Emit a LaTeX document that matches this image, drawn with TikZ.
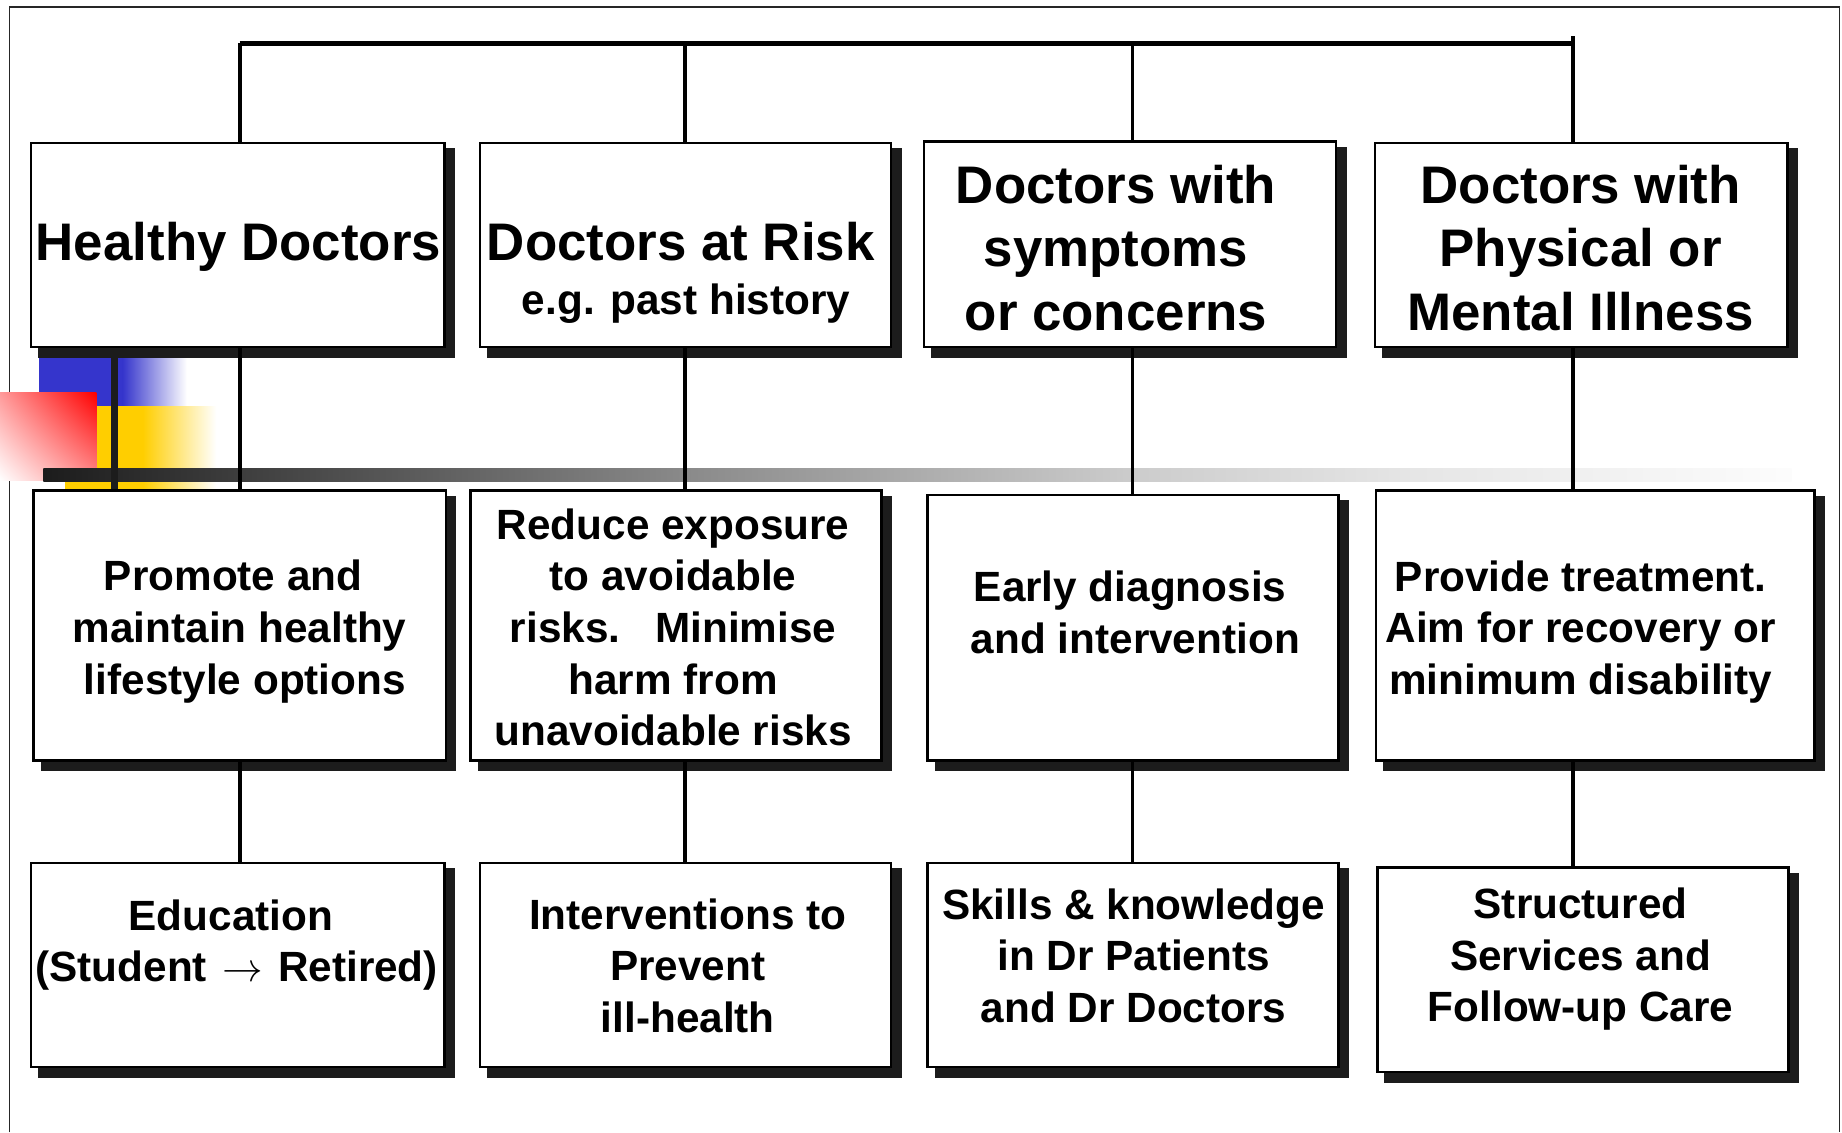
\documentclass[tikz,border=0pt]{standalone}
\usepackage{fontspec}
\setmainfont{Liberation Sans}
\usetikzlibrary{calc,shadings}

\definecolor{shadowc}{RGB}{28,28,28}
\definecolor{blueC}{RGB}{53,53,204}
\definecolor{yellowC}{RGB}{255,206,0}

\tikzset{
  panelbox/.style={draw=black, line width=1pt, fill=white, inner sep=0pt, outer sep=0pt},
  link/.style={line width=1.6pt, black},
  topbar/.style={line width=2.2pt, black},
  bigtxt/.style={font=\bfseries\fontsize{22.5}{27}\selectfont, align=center, inner sep=0pt},
  smalltxt/.style={font=\bfseries\fontsize{18}{22}\selectfont, align=center, inner sep=0pt},
}

% box with a solid drop shadow: name, x1, y1, x2, y2
\newcommand\makepanel[5]{%
  \fill[shadowc] ({#2+6.5},{#3+5}) rectangle ({#4+8.5},{#5+8.5});
  \node[panelbox, minimum width={(#4-#2-1)*0.5pt}, minimum height={(#5-#3-1)*0.5pt}]
    (#1) at ({(#2+#4)/2},{(#3+#5)/2}) {};}

\begin{document}
\begin{tikzpicture}[x=0.5pt,y=-0.5pt]
\useasboundingbox (0,0) rectangle (1568,964);
\fill[white] (0,0) rectangle (1568,964);

% outer frame
\draw[line width=0.7pt, black!85] (8,964) -- (8,6) -- (1566,6) -- (1566,964);

% corner ornament
\fill[blueC] (33,298) rectangle (105,346);
\shade[left color=blueC, right color=white] (104.5,298) rectangle (159,346);
\fill[yellowC] (55,346) rectangle (122,416);
\shade[left color=yellowC, right color=white] (121.5,346) rectangle (184,416);
\shade[upper left=red!40, upper right=red, lower left=white, lower right=red!45]
  (0,334) rectangle (82,409);

% fading rule
\shade[left color=black!89, right color=black!46] (37,398.5) rectangle (583.5,409.5);
\shade[left color=black!46, right color=black!20] (583,398.5) rectangle (964.5,409.5);
\shade[left color=black!20, right color=black!10] (964,398.5) rectangle (1200.5,409.5);
\shade[left color=black!10, right color=black!1] (1200,398.5) rectangle (1525,409.5);
\fill[shadowc] (94.5,300) rectangle (100.5,416);

% boxes
\makepanel{b11}{26}{121}{379}{296}
\makepanel{b12}{408}{121}{759}{296}
\makepanel{b13}{786}{120}{1138}{296}
\makepanel{b14}{1170}{121}{1522}{296}
\makepanel{b21}{28}{417}{380}{648}
\makepanel{b22}{400}{417}{751}{648}
\makepanel{b23}{789}{421}{1140}{648}
\makepanel{b24}{1171}{417}{1545}{648}
\makepanel{b31}{26}{734}{379}{909}
\makepanel{b32}{408}{734}{759}{909}
\makepanel{b33}{789}{734}{1140}{909}
\makepanel{b34}{1172}{738}{1523}{913}

% texts
\node[bigtxt] (t11) at (203,210.5) {Healthy Doctors};
\node[bigtxt] (t12) at (579.5,206) {Doctors at Risk};
\node[smalltxt] (t12s) at (584,258.6) {e.g. past history};
\node[bigtxt] (t13) at (950,211) {Doctors with\\symptoms\\or concerns};
\node[bigtxt] (t14) at (1345.5,211) {Doctors with\\Physical or\\Mental Illness};
\node[smalltxt] (t21) at (204,537.6) {Promote and\hspace*{5.5pt}\\maintain healthy\\\hspace*{4.5pt}lifestyle options};
\node[smalltxt] (t22) at (573,534) {Reduce exposure\\to avoidable\\risks.\hspace{0.83em}Minimise\\harm from\\unavoidable risks};
\node[smalltxt] (t23) at (964,521.5) {Early diagnosis\hspace*{2pt}\\\hspace*{2.5pt}and intervention};
\node[smalltxt] (t24) at (1345.5,538) {Provide treatment.\\Aim for recovery or\\minimum disability};
\node[smalltxt] (t31) at (199,804.6) {Education\hspace*{2.5pt}\\\hspace*{2.5pt}(Student\hspace{1.5pt} $\rightarrow$ \hspace{1.5pt}Retired)};
\node[smalltxt] (t32) at (585.5,822) {Interventions to\\Prevent\\ill-health};
\node[smalltxt] (t33) at (965,813.5) {Skills \& knowledge\\in Dr Patients\\and Dr Doctors};
\node[smalltxt] (t34) at (1345.5,816.6) {Structured\\Services and\\Follow-up Care};

% connectors
\coordinate (k1) at (204,37);
\coordinate (k2) at (583,37);
\coordinate (k3) at (964,37);
\coordinate (k4) at (1339,37);
\coordinate (k4t) at (1339,31);
\draw[topbar] (k1) -- (k4);
\draw[link] (k1) -- (k1 |- b11.north);
\draw[link] (k2) -- (k2 |- b12.north);
\draw[link] (k3) -- (k3 |- b13.north);
\draw[link] (k4t) -- (k4 |- b14.north);
\draw[link] (k1 |- b11.south) -- (k1 |- b21.north);
\draw[link] (k2 |- b12.south) -- (k2 |- b22.north);
\draw[link] (k3 |- b13.south) -- (k3 |- b23.north);
\draw[link] (k4 |- b14.south) -- (k4 |- b24.north);
\draw[link] (k1 |- b21.south) -- (k1 |- b31.north);
\draw[link] (k2 |- b22.south) -- (k2 |- b32.north);
\draw[link] (k3 |- b23.south) -- (k3 |- b33.north);
\draw[link] (k4 |- b24.south) -- (k4 |- b34.north);
\end{tikzpicture}
\end{document}
